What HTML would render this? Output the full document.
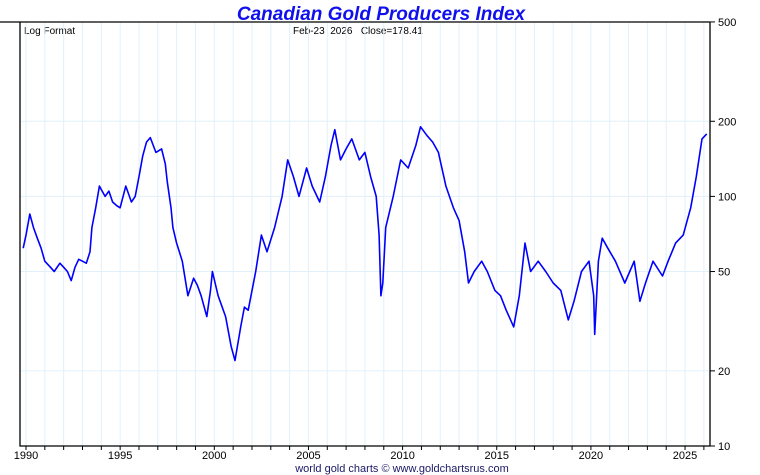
<!DOCTYPE html>
<html><head><meta charset="utf-8"><style>
body{margin:0;background:#fff;}
svg{display:block;font-family:"Liberation Sans",sans-serif;}
</style></head><body>
<svg id="chart" width="760" height="475">
<text x="381" y="20" text-anchor="middle" font-size="19" font-weight="bold" font-style="italic" fill="#1010ee">Canadian Gold Producers Index</text>
<text x="24" y="34" font-size="10" fill="#000">Log Format</text>
<text x="293" y="34" font-size="10" fill="#000">Feb-23&#160;&#160;2026&#160;&#160;&#160;Close=178.41</text>
<text x="402" y="472" text-anchor="middle" font-size="11" fill="#1a1a66">world gold charts © www.goldchartsrus.com</text>
<g id="grid"></g>
<g id="axes"></g>
<g id="series"></g>
</svg>
<script>
const years=[1990,1995,2000,2005,2010,2015,2020,2025];
const yTicks=[10,20,50,100,200,500];
const dates=[1989.85,1990.0,1990.2,1990.4,1990.6,1990.8,1991.0,1991.3,1991.5,1991.8,1992.0,1992.2,1992.4,1992.6,1992.8,1993.0,1993.2,1993.4,1993.5,1993.7,1993.9,1994.2,1994.4,1994.6,1994.8,1995.0,1995.3,1995.6,1995.8,1996.0,1996.2,1996.4,1996.6,1996.9,1997.2,1997.4,1997.5,1997.7,1997.8,1998.0,1998.3,1998.6,1998.9,1999.1,1999.3,1999.6,1999.8,1999.9,2000.2,2000.6,2000.9,2001.1,2001.4,2001.6,2001.8,2002.2,2002.5,2002.8,2003.2,2003.6,2003.9,2004.2,2004.5,2004.9,2005.2,2005.6,2005.9,2006.2,2006.4,2006.7,2007.0,2007.3,2007.7,2008.0,2008.3,2008.6,2008.75,2008.85,2008.95,2009.1,2009.5,2009.9,2010.3,2010.7,2010.95,2011.3,2011.6,2011.9,2012.3,2012.7,2013.0,2013.3,2013.5,2013.8,2014.2,2014.5,2014.9,2015.2,2015.5,2015.9,2016.2,2016.5,2016.8,2017.2,2017.6,2018.0,2018.4,2018.8,2019.1,2019.5,2019.9,2020.15,2020.2,2020.4,2020.6,2020.9,2021.3,2021.8,2022.3,2022.6,2022.9,2023.3,2023.8,2024.1,2024.5,2024.9,2025.3,2025.6,2025.9,2026.15];
const closes=[62,70,85,75,68,62,55,52,50,54,52,50,46,52,56,55,54,60,75,90,110,100,105,95,92,90,110,95,100,120,145,165,172,150,155,135,115,90,75,65,55,40,47,44,40,33,42,50,40,33,25,22,30,36,35,50,70,60,75,100,140,120,100,130,110,95,120,160,185,140,155,170,140,150,120,100,70,40,45,75,100,140,130,160,190,175,165,150,110,90,80,60,45,50,55,50,42,40,35,30,40,65,50,55,50,45,42,32,38,50,55,40,28,55,68,62,55,45,55,38,45,55,48,55,65,70,90,120,170,178];
const NS="http://www.w3.org/2000/svg";
const L=20,R=710,T=22,B=446;
function xs(y){return 26+(y-1990)*18.83;}
function ys(v){return B-(Math.log10(v)-1)*249.6;}
const grid=document.getElementById('grid'),axes=document.getElementById('axes'),ser=document.getElementById('series');
function mk(tag,attrs,parent){const e=document.createElementNS(NS,tag);for(const k in attrs)e.setAttribute(k,attrs[k]);parent.appendChild(e);return e;}
for(let y=1990;y<=2026;y++){
  const x=xs(y);
  const g=mk('line',{x1:x,x2:x,y1:T,y2:B,stroke:'#e2f0fa','stroke-width':1},grid);
  
  
  const t=mk('line',{x1:x,x2:x,y1:B,y2:B+4,stroke:'#000','stroke-width':1},axes);
  
  
}
years.forEach(y=>{
  const t=mk('text',{x:xs(y),y:B+13,'text-anchor':'middle','font-size':11,fill:'#000'},axes);
  t.textContent=y;
  
  
});
yTicks.forEach(v=>{
  const y=ys(v);
  const g=mk('line',{x1:L,x2:R,y1:y,y2:y,stroke:'#e2f0fa','stroke-width':1},grid);
  
  
  const t=mk('line',{x1:R,x2:R+5,y1:y,y2:y,stroke:'#000'},axes);
  
  
  const l=mk('text',{x:R+8,y:y+4,'font-size':11,fill:'#000'},axes);
  l.textContent=v;
  
  
});
const frame=mk('path',{d:`M${L},${T} L${L},${B} L${R},${B} L${R},${T} M0,${T} L${R},${T}`,stroke:'#000','stroke-width':1.3,fill:'none'},axes);


const pts=dates.map((d,i)=>xs(d).toFixed(1)+','+ys(closes[i]).toFixed(1)).join(' ');
const line=mk('polyline',{points:pts,fill:'none',stroke:'#0000ff','stroke-width':1.6,'stroke-linejoin':'round'},ser);


</script>
</body></html>
